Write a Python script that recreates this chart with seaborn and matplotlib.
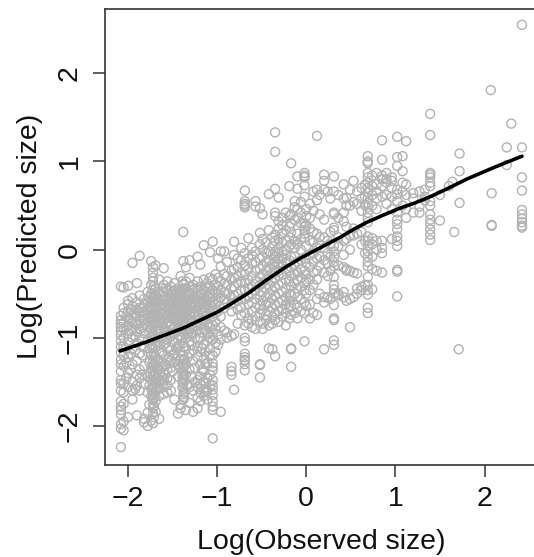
import matplotlib
matplotlib.use("Agg")
import matplotlib.pyplot as plt
import pandas as pd
import seaborn as sns

# observed size columns and the predicted values read at each one
low_cols = [-2.08, -2.05, -2.0, -1.95, -1.9, -1.87, -1.82, -1.78, -1.74, -1.72, -1.69, -1.65, -1.6, -1.56,
            -1.52, -1.48, -1.44, -1.41, -1.38, -1.35, -1.31, -1.27, -1.22, -1.19, -1.15, -1.11, -1.08, -1.05, -1.02]
low_pred = [
    [-0.42, -0.75, -0.8, -0.84, -0.88, -0.92, -0.97, -1.03, -1.1, -1.17, -1.25, -1.3, -1.38, -1.48, -1.52, -1.6, -1.72, -1.78, -1.82, -1.87, -1.98, -2.03, -2.24],
    [-0.43, -0.66, -0.72, -0.83, -0.9, -1.0, -1.1, -1.2, -1.32, -1.52, -1.62, -1.75, -1.95, -2.05],
    [-0.41, -0.58, -0.62, -0.7, -0.78, -0.86, -0.95, -1.05, -1.22, -1.4, -1.56, -1.9],
    [-0.15, -0.55, -0.64, -0.74, -0.82, -0.9, -1.0, -1.12, -1.3, -1.5, -1.6, -1.7],
    [-0.38, -0.6, -0.68, -0.76, -0.85, -0.93, -1.06, -1.26, -1.42, -1.54, -1.88],
    [-0.07, -0.52, -0.66, -0.72, -0.8, -0.9, -1.0, -1.18, -1.36, -1.46, -1.6],
    [-0.56, -0.63, -0.7, -0.78, -0.84, -0.95, -1.1, -1.32, -1.52, -1.92, -1.96],
    [-0.48, -0.6, -0.68, -0.74, -0.82, -0.88, -1.04, -1.16, -1.44, -1.62, -1.85, -2.0],
    [-0.13, -0.4, -0.5, -0.58, -0.64, -0.7, -0.76, -0.82, -0.9, -0.98, -1.08, -1.2, -1.34, -1.48, -1.58, -1.66, -1.94],
    [-0.2, -0.26, -0.32, -0.36, -0.46, -0.55, -0.62, -0.68, -0.74, -0.8, -0.86, -0.94, -1.02, -1.12, -1.26, -1.32, -1.38, -1.44, -1.5, -1.56, -1.64, -1.7, -1.75, -1.8, -1.86, -1.97],
    [-0.18, -0.44, -0.52, -0.6, -0.66, -0.72, -0.78, -0.84, -0.92, -1.0, -1.1, -1.22, -1.3, -1.4, -1.46, -1.52, -1.6, -1.72, -1.84],
    [-0.34, -0.5, -0.56, -0.63, -0.7, -0.76, -0.82, -0.9, -1.04, -1.16, -1.28, -1.36, -1.42, -1.5, -1.58, -1.66, -1.92],
    [-0.21, -0.4, -0.48, -0.58, -0.64, -0.72, -0.8, -0.88, -0.96, -1.08, -1.2, -1.32, -1.4, -1.48, -1.56, -1.64],
    [-0.36, -0.46, -0.54, -0.6, -0.68, -0.74, -0.84, -0.94, -1.02, -1.12, -1.24, -1.36, -1.46, -1.54, -1.62],
    [-0.42, -0.5, -0.56, -0.62, -0.7, -0.78, -0.86, -0.98, -1.14, -1.26, -1.34, -1.48, -1.6],
    [-0.38, -0.46, -0.54, -0.6, -0.66, -0.72, -0.8, -0.88, -0.94, -1.06, -1.18, -1.28, -1.7],
    [-0.44, -0.52, -0.58, -0.64, -0.7, -0.76, -0.84, -0.92, -1.02, -1.1, -1.3, -1.44, -1.86],
    [-0.3, -0.48, -0.56, -0.62, -0.68, -0.74, -0.82, -0.98, -1.16, -1.24, -1.76, -1.8],
    [0.2, -0.13, -0.4, -0.46, -0.54, -0.6, -0.66, -0.72, -0.78, -0.86, -0.94, -1.06, -1.2, -1.26, -1.34, -1.4, -1.46, -1.52, -1.58, -1.64, -1.7],
    [-0.2, -0.36, -0.44, -0.52, -0.58, -0.64, -0.7, -0.76, -0.84, -0.92, -1.0, -1.12, -1.3, -1.42, -1.82],
    [-0.12, -0.32, -0.42, -0.5, -0.56, -0.62, -0.68, -0.74, -0.8, -0.9, -1.04, -1.18, -1.36, -1.56, -1.74],
    [-0.4, -0.46, -0.54, -0.6, -0.66, -0.72, -0.82, -0.88, -0.96, -1.14, -1.26, -1.6, -1.84],
    [-0.08, -0.36, -0.44, -0.52, -0.58, -0.64, -0.7, -0.76, -0.84, -0.92, -1.02, -1.1, -1.22, -1.48, -1.56, -1.68, -1.8],
    [-0.17, -0.42, -0.5, -0.56, -0.62, -0.68, -0.78, -0.86, -1.0, -1.16, -1.3, -1.44, -1.52, -1.62, -1.72],
    [0.05, -0.34, -0.46, -0.54, -0.6, -0.66, -0.72, -0.8, -0.9, -1.08, -1.24, -1.38, -1.5, -1.58, -1.66],
    [-0.38, -0.44, -0.52, -0.58, -0.64, -0.74, -0.84, -0.96, -1.04, -1.28, -1.46, -1.6, -1.7],
    [-0.03, -0.32, -0.42, -0.5, -0.56, -0.62, -0.7, -0.78, -0.88, -1.0, -1.12, -1.2, -1.42, -1.54],
    [0.09, -0.34, -0.46, -0.54, -0.6, -0.68, -0.76, -0.86, -0.94, -1.02, -1.2, -1.29, -1.33, -1.37, -1.48, -1.54, -1.59, -1.65, -1.72, -1.78, -1.82, -2.14],
    [-0.28, -0.4, -0.48, -0.56, -0.62, -0.72, -0.82, -0.9, -1.06, -1.16],
]

# extra readings in the crowded part of the cloud, between the columns above
band_cols = [-2.02, -1.97, -1.92, -1.84, -1.76, -1.71, -1.67, -1.62, -1.58, -1.54, -1.5, -1.46, -1.42, -1.39, -1.37, -1.33, -1.29, -1.25, -1.17, -1.13]
band_pred = [
    [-0.76, -0.88, -1.12, -1.28, -1.46],
    [-0.68, -0.8, -0.92, -1.18, -1.36],
    [-0.72, -0.84, -0.98, -1.14, -1.58],
    [-0.66, -0.76, -0.88, -1.02, -1.2, -1.42],
    [-0.54, -0.66, -0.78, -0.94, -1.12, -1.28, -1.4, -1.54, -1.76],
    [-0.42, -0.5, -0.58, -0.72, -0.84, -0.98, -1.18, -1.3, -1.42, -1.54, -1.62, -1.68, -1.78, -1.9],
    [-0.48, -0.6, -0.74, -0.86, -1.06, -1.24, -1.36, -1.46, -1.56],
    [-0.52, -0.62, -0.74, -0.84, -1.0, -1.18, -1.34, -1.44, -1.52],
    [-0.44, -0.56, -0.66, -0.78, -0.92, -1.06, -1.3, -1.42],
    [-0.5, -0.6, -0.7, -0.82, -0.96, -1.1, -1.22],
    [-0.48, -0.58, -0.68, -0.76, -0.9, -1.04, -1.2, -1.38],
    [-0.5, -0.62, -0.7, -0.8, -0.92, -1.12, -1.24],
    [-0.46, -0.56, -0.66, -0.78, -0.88, -1.08, -1.34],
    [-0.36, -0.5, -0.6, -0.7, -0.8, -0.9, -1.0, -1.3, -1.38, -1.44, -1.5, -1.56],
    [-0.44, -0.54, -0.64, -0.76, -0.84, -1.1, -1.24, -1.32, -1.42, -1.48, -1.62, -1.68],
    [-0.48, -0.58, -0.68, -0.78, -0.96, -1.22, -1.54],
    [-0.5, -0.6, -0.7, -0.8, -0.94, -1.08, -1.44],
    [-0.44, -0.56, -0.64, -0.74, -0.86, -1.0, -1.34, -1.5],
    [-0.5, -0.58, -0.7, -0.8, -0.94, -1.12, -1.36],
    [-0.42, -0.56, -0.66, -0.76, -0.92, -1.16, -1.3, -1.52, -1.62],
]

mid_cols = [-0.99, -0.96, -0.92, -0.89, -0.84, -0.81, -0.77, -0.73, -0.69, -0.65, -0.61, -0.57, -0.52, -0.49, -0.45, -0.42,
            -0.38, -0.35, -0.31, -0.27, -0.23, -0.19, -0.17, -0.13, -0.1, -0.06, -0.02, 0.0, 0.04, 0.08, 0.12, 0.15, 0.2, 0.24,
            0.27, 0.31, 0.36, 0.42, 0.45, 0.49, 0.53, 0.57, 0.62, 0.66]
mid_pred = [
    [-0.1, -0.32, -0.42, -0.5, -0.58, -0.7, -0.96, -1.08],
    [-0.19, -0.02, -0.36, -0.46, -0.54, -0.76, -0.88, -1.02, -1.84],
    [-0.02, -0.28, -0.38, -0.48, -0.56, -0.66, -0.92],
    [-0.14, -0.3, -0.4, -0.5, -0.6, -0.94, -1.0],
    [-0.24, -0.34, -0.44, -0.54, -0.62, -0.7, -0.98, -1.33, -1.38, -1.42],
    [0.09, -0.06, -0.22, -0.32, -0.42, -0.52, -0.6, -0.96, -1.59],
    [-0.1, -0.2, -0.3, -0.38, -0.5, -0.58, -0.68, -0.84],
    [0.02, -0.12, -0.26, -0.36, -0.46, -0.56, -0.66, -0.74],
    [0.67, 0.55, 0.52, 0.5, 0.48, -0.04, -0.18, -0.28, -0.38, -0.46, -0.56, -0.72, -0.86, -1.0, -1.04, -1.18, -1.22, -1.25, -1.26, -1.3, -1.37],
    [0.13, -0.1, -0.22, -0.34, -0.44, -0.54, -0.62, -0.78, -0.84],
    [0.02, -0.06, -0.16, -0.3, -0.42, -0.5, -0.6, -0.7, -0.8, -0.88],
    [0.55, 0.49, -0.02, -0.14, -0.24, -0.36, -0.46, -0.56, -0.66, -0.76, -0.9],
    [0.47, 0.19, 0.06, -0.1, -0.22, -0.32, -0.4, -0.52, -0.64, -0.72, -0.82, -1.3, -1.31, -1.45],
    [0.4, 0.12, 0.0, -0.08, -0.18, -0.28, -0.38, -0.48, -0.58, -0.68, -0.84, -0.9],
    [0.08, -0.04, -0.14, -0.24, -0.34, -0.44, -0.54, -0.62, -0.74, -0.8],
    [0.63, 0.22, -0.02, -0.12, -0.2, -0.3, -0.4, -0.5, -0.6, -0.7, -0.86, -1.12],
    [0.14, 0.04, -0.06, -0.16, -0.26, -0.36, -0.46, -0.56, -0.66, -0.76, -0.84, -1.13],
    [1.33, 1.11, 0.69, 0.42, 0.38, 0.17, 0.1, -0.02, -0.08, -0.14, -0.2, -0.26, -0.32, -0.42, -0.52, -0.62, -0.72, -0.8, -1.21],
    [0.59, 0.32, 0.24, 0.12, 0.02, -0.04, -0.1, -0.16, -0.24, -0.3, -0.4, -0.5, -0.6, -0.7, -0.82],
    [0.36, 0.28, 0.18, 0.08, -0.02, -0.1, -0.18, -0.28, -0.38, -0.48, -0.58, -0.68, -0.76],
    [0.42, 0.22, 0.1, 0.0, -0.06, -0.14, -0.22, -0.34, -0.44, -0.54, -0.62, -0.72, -0.86],
    [0.72, 0.38, 0.26, 0.14, 0.04, -0.12, -0.24, -0.36, -0.5, -0.58, -0.66, -0.78],
    [0.98, 0.4, 0.3, 0.2, 0.06, -0.08, -0.2, -0.3, -0.42, -0.52, -0.64, -0.74, -1.12, -1.33, -1.13],
    [0.55, 0.48, 0.34, 0.1, 0.02, -0.08, -0.18, -0.28, -0.38, -0.5, -0.62, -0.72],
    [0.83, 0.69, 0.46, 0.36, 0.18, 0.06, -0.14, -0.26, -0.34, -0.44, -0.54, -0.66, -0.78],
    [0.54, 0.42, 0.3, 0.12, 0.0, -0.12, -0.22, -0.32, -0.42, -0.56, -0.7],
    [0.87, 0.84, 0.82, 0.73, 0.6, 0.3, 0.26, 0.22, 0.18, 0.14, -0.1, -0.24, -0.38, -0.46, -0.6, -0.72, -1.04],
    [0.46, 0.38, 0.28, 0.04, -0.16, -0.28, -0.36, -0.5, -0.64],
    [0.52, 0.36, 0.24, 0.1, -0.06, -0.2, -0.34, -0.46, -0.62, -0.78],
    [0.66, 0.44, 0.2, 0.08, -0.04, -0.14, -0.26, -0.4, -0.72],
    [1.29, 0.68, 0.56, 0.18, 0.02, -0.1, -0.24, -0.34, -0.56, -0.74],
    [0.62, 0.4, 0.14, 0.06, -0.08, -0.18, -0.5],
    [0.85, 0.78, 0.68, 0.34, 0.14, 0.02, -0.12, -0.26, -0.54, -0.6, -1.13],
    [0.66, 0.1, -0.04, -0.16, -0.3, -0.54],
    [0.58, 0.2, 0.06, -0.08, -0.24, -0.56],
    [0.83, 0.66, 0.42, 0.4, 0.25, 0.22, 0.04, -0.02, -0.08, -0.14, -0.19, -0.31, -0.4, -0.45, -0.5, -0.63, -0.78, -0.8, -1.03, -1.08],
    [0.62, 0.36, 0.14, 0.04, -0.18, -0.5, -0.52],
    [0.74, 0.58, 0.42, 0.32, 0.1, -0.06, -0.2, -0.48, -0.54],
    [0.59, 0.5, 0.26, 0.12, -0.22, -0.24, -0.58],
    [0.68, 0.5, 0.16, 0.0, -0.24, -0.56, -0.88],
    [0.78, 0.54, 0.24, 0.16, -0.26, -0.54],
    [0.66, 0.52, 0.18, -0.27, -0.44, -0.5],
    [0.7, 0.58, 0.44, 0.2, 0.06, -0.42, -0.46],
    [0.74, 0.6, 0.5, 0.1, -0.04, -0.4],
]

high_cols = [0.69, 0.74, 0.79, 0.85, 0.9, 0.96, 1.02, 1.08, 1.12, 1.2, 1.27, 1.33, 1.39, 1.5, 1.6, 1.64, 1.66, 1.71, 1.72, 2.07, 2.08, 2.25, 2.3, 2.42]
high_pred = [
    [1.06, 1.0, 0.98, 0.87, 0.82, 0.76, 0.7, 0.65, 0.59, 0.53, 0.48, 0.42, 0.36, 0.31, 0.15, 0.1, 0.04, -0.02, -0.08, -0.14, -0.19, -0.31, -0.4, -0.46, -0.51, -0.66, -0.72],
    [0.84, 0.72, 0.62, 0.5, 0.13, 0.06, -0.08, -0.22, -0.45],
    [0.87, 0.74, 0.66, 0.58, 0.46, 0.1, 0.0, -0.24],
    [1.24, 1.02, 0.84, 0.8, 0.72, 0.6, 0.1, 0.02, -0.04, -0.26],
    [0.87, 0.8, 0.76, 0.62, 0.52],
    [0.82, 0.78, 0.7, 0.6, 0.46, 0.12],
    [1.28, 1.05, 0.95, 0.68, 0.63, 0.55, 0.42, 0.34, 0.29, 0.23, 0.15, 0.1, 0.04, -0.23, -0.25, -0.53],
    [1.06, 0.89, 0.76, 0.66, 0.5],
    [1.23, 0.74, 0.62, 0.46, 0.36],
    [0.64, 0.58, 0.42],
    [0.66, 0.49, 0.42],
    [0.68, 0.6, 0.56],
    [1.54, 1.3, 0.87, 0.85, 0.82, 0.76, 0.72, 0.55, 0.5, 0.4, 0.34, 0.29, 0.23, 0.17, 0.11],
    [0.62, 0.33],
    [0.72],
    [0.77],
    [0.2],
    [-1.13],
    [1.09, 0.89, 0.53],
    [1.81],
    [0.64, 0.28, 0.27],
    [1.16, 0.96],
    [1.43],
    [2.55, 1.16, 0.82, 0.67, 0.45, 0.4, 0.35, 0.31, 0.27, 0.25],
]

# smoother through the cloud
curve_x = [-2.09, -1.8, -1.565, -1.38, -1.19, -1.0, -0.82, -0.63, -0.44, -0.25, -0.07, 0.04, 0.155, 0.38, 0.53, 0.68, 0.86, 1.05, 1.22, 1.39, 1.6, 1.8, 2.1, 2.42]
curve_y = [-1.15, -1.05, -0.96, -0.89, -0.8, -0.71, -0.6, -0.48, -0.34, -0.21, -0.1, -0.04, 0.02, 0.14, 0.23, 0.31, 0.39, 0.47, 0.53, 0.6, 0.7, 0.8, 0.93, 1.06]

rows = []
for cols, preds in [(low_cols, low_pred), (band_cols, band_pred), (mid_cols, mid_pred), (high_cols, high_pred)]:
    for c, vals in zip(cols, preds):
        for v in vals:
            rows.append((c, v))
df = pd.DataFrame(rows, columns=['observed', 'predicted'])
curve = pd.DataFrame({'observed': curve_x, 'predicted': curve_y})

sns.set_theme(style='ticks')
plt.rcParams['font.family'] = ['Liberation Sans', 'DejaVu Sans']

fig = plt.figure(figsize=(5.34, 5.57), dpi=100)
# right edge of the frame runs just past the image, as in the original crop
ax = fig.add_axes([104.6 / 534, 1 - 464.7 / 557, (538 - 104.6) / 534, (464.7 - 9) / 557])

sns.scatterplot(data=df, x='observed', y='predicted', ax=ax, s=42, marker='o',
                facecolor='none', edgecolor='#b2b2b2', linewidth=1.0, clip_on=False)
sns.lineplot(data=curve, x='observed', y='predicted', ax=ax, color='black', linewidth=2.6,
             estimator=None, sort=False)

ax.set_xlim(-2.263, 2.60)
ax.set_ylim(-2.44, 2.73)
ax.set_xticks([-2, -1, 0, 1, 2])
ax.set_yticks([-2, -1, 0, 1, 2])
ax.set_xticklabels(['\u22122', '\u22121', '0', '1', '2'])
ax.set_yticklabels(['\u22122', '\u22121', '0', '1', '2'], rotation=90, va='center')
ax.tick_params(axis='both', length=8.5, width=1.1, color='#333333', labelsize=20.5, labelcolor='#111111', pad=7)
for s in ax.spines.values():
    s.set_linewidth(1.2)
    s.set_color('#333333')
ax.set_xlabel('Log(Observed size)', fontsize=20.5, color='#111111', labelpad=12)
ax.set_ylabel('Log(Predicted size)', fontsize=20.5, color='#111111', labelpad=10)

fig.savefig('out.png', dpi=100)
